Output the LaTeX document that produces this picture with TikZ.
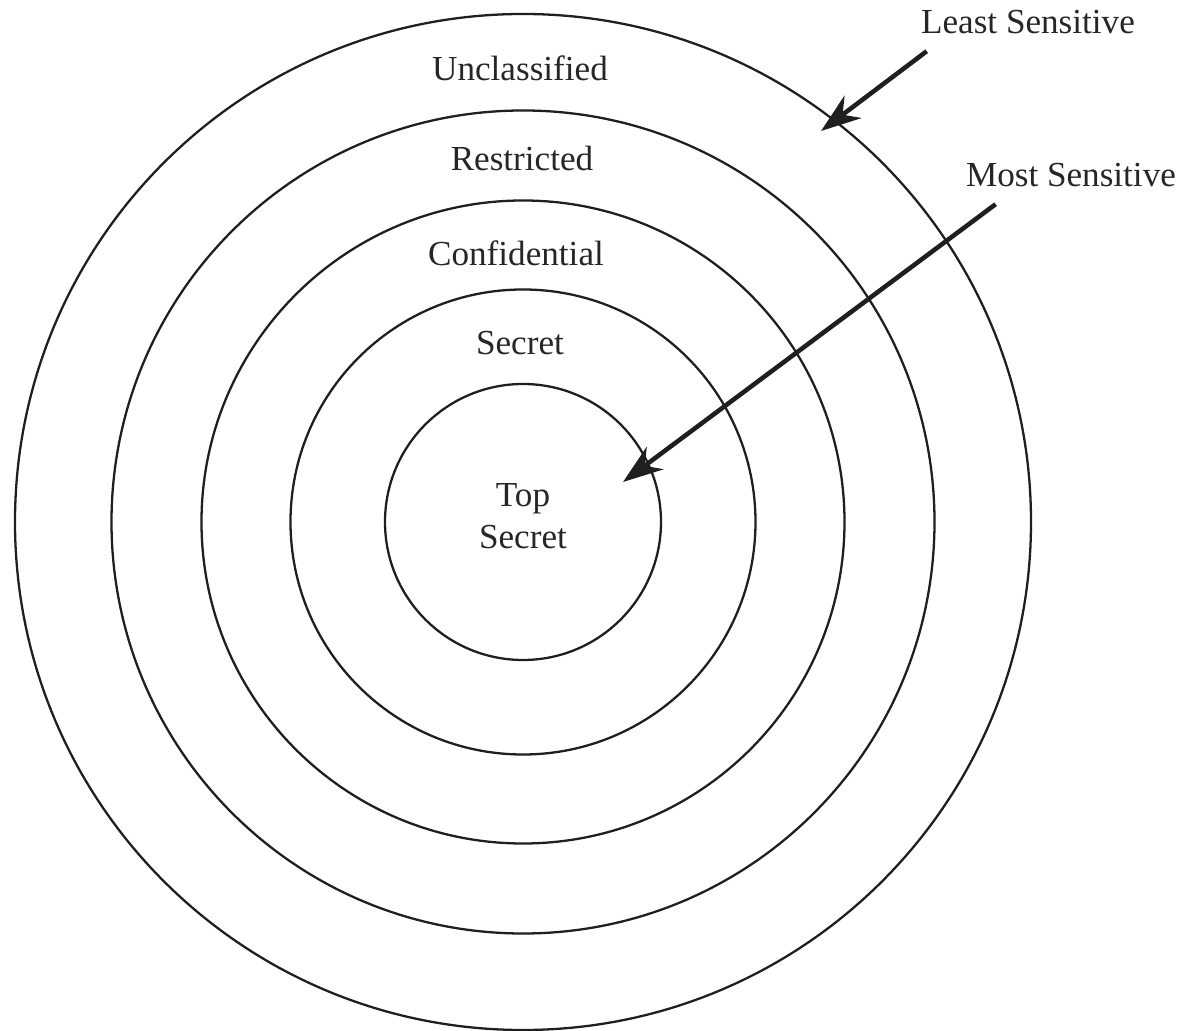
\documentclass[tikz,border=0pt]{standalone}
\usepackage{fontspec}
\setmainfont{Liberation Serif}
\usetikzlibrary{arrows.meta}

\begin{document}
\begin{tikzpicture}[
  ring/.style={line width=0.65pt, draw=black!88},
  pointer/.style={line width=1.3pt, draw=black!88, -{Stealth[length=4mm, width=2.8mm]}},
  every node/.style={font=\fontsize{10}{12}\selectfont, align=center, text=black!85}
]
\useasboundingbox (-5.23,-5.09) rectangle (6.61,5.22);
% rings, outer to inner
\foreach \r in {5.08,4.115,3.215,2.325,1.38}
  \draw[ring] (0,0) circle (\r);
% level labels
\node (uncl) at (-0.03,4.54) {Unclassified};
\node (rest) at (-0.01,3.64) {Restricted};
\node (conf) at (-0.07,2.69) {Confidential};
\node (secr) at (-0.03,1.79) {Secret};
\node (tops) at (0,0.06) {Top\\Secret};
% sensitivity notes
\node (least) at (5.05,5.00) {Least Sensitive};
\node (most) at (5.48,3.47) {Most Sensitive};
\coordinate (leastend) at (2.98,3.91);
\coordinate (mostend) at (1.00,0.40);
\draw[pointer] (least.south west) ++(0.18,-0.05) -- (leastend);
\draw[pointer] (most.south west) ++(0.42,-0.05) -- (mostend);
\end{tikzpicture}
\end{document}
